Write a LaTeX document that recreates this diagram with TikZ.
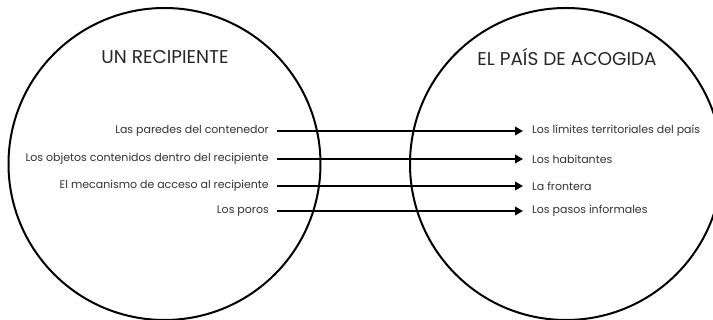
\documentclass[tikz,border=0pt]{standalone}
\usepackage{fontspec}
\setmainfont{Poppins}
\usetikzlibrary{arrows.meta}
\definecolor{txt}{HTML}{333333}
\tikzset{
  side/.style={circle, draw, line width=2pt, minimum size=312pt, inner sep=0pt},
  title/.style={font=\fontsize{18.5}{21}\selectfont, text=black!85},
  lbl/.style={font=\fontsize{11}{13}\selectfont, text=txt, inner ysep=0pt},
  link/.style={line width=1.9pt, -{Triangle[length=8pt,width=8.5pt]}}
}
\begin{document}
\begin{tikzpicture}[x=1pt,y=1pt]
        \useasboundingbox (0,0) rectangle (713,320);
        \node[side] (recipiente) at (164.5,156) {};
        \node[side] (pais) at (566,156) {};
        \node[title] (trecipiente) at (165,263) {UN RECIPIENTE};
        \node[title] (tpais) at (567,263) {EL PAÍS DE ACOGIDA};

        \node[lbl, anchor=east, inner xsep=8pt] (paredes) at (277,189) {Las paredes del contenedor};
        \node[lbl, anchor=east, inner xsep=8pt] (objetos) at (277,161) {Los objetos contenidos dentro del recipiente};
        \node[lbl, anchor=east, inner xsep=8pt] (mecanismo) at (277,134) {El mecanismo de acceso al recipiente};
        \node[lbl, anchor=east, inner xsep=8pt] (poros) at (277,109) {Los poros};

        \node[lbl, anchor=west, inner xsep=9pt] (limites) at (523,189) {Los límites territoriales del país};
        \node[lbl, anchor=west, inner xsep=9pt] (habitantes) at (523,161) {Los habitantes};
        \node[lbl, anchor=west, inner xsep=9pt] (frontera) at (523,134) {La frontera};
        \node[lbl, anchor=west, inner xsep=9pt] (pasos) at (523,109) {Los pasos informales};

        \draw[link] (paredes) -- (limites);
        \draw[link] (objetos) -- (habitantes);
        \draw[link] (mecanismo) -- (frontera);
        \draw[link] (poros) -- (pasos);
    \end{tikzpicture}
\end{document}
